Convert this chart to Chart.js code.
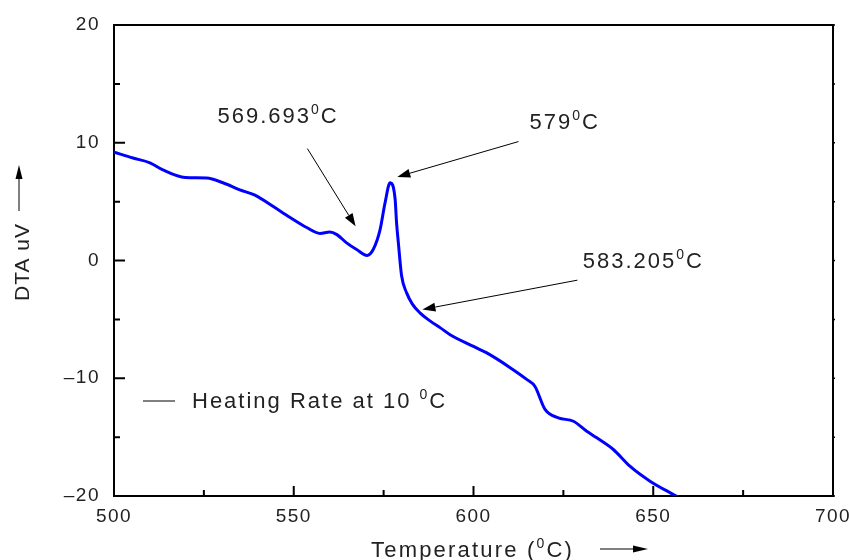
<!DOCTYPE html>
<html>
<head>
<meta charset="utf-8">
<script src="https://cdn.jsdelivr.net/npm/chart.js@4/dist/chart.umd.min.js"></script>
<style>
  body { margin: 0; background: #fff; }
  canvas { display: block; }
</style>
</head>
<body>
<canvas id="dta" width="850" height="560"></canvas>
<script>
// DTA curve (temperature in °C, signal in uV)
const temps = [500, 505.3, 510, 513.6, 519.8, 525.8, 530.3, 535, 539.2, 544.2, 549, 553.6, 557.3, 560, 562, 564.7, 567.5, 570.4, 572.1, 574, 575.4, 576.8, 578.2, 578.6, 579.1, 580, 581.4, 583, 585.1, 588, 590.7, 593.5, 600, 603.7, 610.2, 614.8, 617.1, 619.9, 623.6, 627.8, 631.5, 634.3, 638.9, 643.5, 649.1, 655.6, 657];
const dta = [9.2, 8.7, 8.3, 7.7, 7.05, 7.0, 6.6, 6.0, 5.55, 4.6, 3.65, 2.8, 2.3, 2.42, 2.2, 1.5, 0.93, 0.43, 0.93, 2.6, 4.9, 6.6, 5.2, 3.2, 1.5, -1.3, -2.75, -3.7, -4.45, -5.15, -5.7, -6.3, -7.3, -7.85, -9.1, -10.1, -10.7, -12.65, -13.36, -13.65, -14.5, -15.06, -16.05, -17.47, -18.74, -19.87, -20.1];

const xMajor = [500, 550, 600, 650, 700];
const xMinor = [525, 575, 625, 675];
const yMajor = [-20, -10, 0, 10, 20];
const yMinor = [-15, -5, 5, 15];

// annotation labels: [text, superscript, tail], anchor in data units
const labelText = [['569.693', '0', 'C'], ['579', '0', 'C'], ['583.205', '0', 'C']];
const labelAt = [[528.8, 11.7], [615.6, 11.13], [630.4, -0.6]];
// arrows: from -> to, in data units
const arrowFrom = [[553.8, 9.5], [612.5, 10.1], [628.9, -1.67]];
const arrowTo = [[567.2, 2.9], [578.8, 7.1], [585.8, -4.16]];

const legendLabel = ['Heating Rate at 10 ', '0', 'C'];
const xTitle = ['Temperature (', '0', 'C)'];
const yTitle = 'DTA uV';

const FONT = "'Liberation Sans', Arial, sans-serif";

function supText(ctx, x, y, parts, size, supSize, rise) {
    ctx.font = size + 'px ' + FONT;
    ctx.fillText(parts[0], x, y);
    x += ctx.measureText(parts[0]).width;
    ctx.font = supSize + 'px ' + FONT;
    ctx.fillText(parts[1], x, y - rise);
    x += ctx.measureText(parts[1]).width;
    ctx.font = size + 'px ' + FONT;
    ctx.fillText(parts[2], x, y);
    return x + ctx.measureText(parts[2]).width;
}

function arrow(ctx, x1, y1, x2, y2, head, half) {
    const a = Math.atan2(y2 - y1, x2 - x1);
    const bx = x2 - head * Math.cos(a), by = y2 - head * Math.sin(a);
    ctx.beginPath();
    ctx.moveTo(x1, y1);
    ctx.lineTo(bx, by);
    ctx.stroke();
    ctx.beginPath();
    ctx.moveTo(x2, y2);
    ctx.lineTo(bx + half * Math.sin(a), by - half * Math.cos(a));
    ctx.lineTo(bx - half * Math.sin(a), by + half * Math.cos(a));
    ctx.closePath();
    ctx.fill();
}

const decor = {
    id: 'decor',
    beforeDraw(chart) {
        chart.ctx.letterSpacing = '1.5px';
    },
    afterDraw(chart) {
        const ctx = chart.ctx;
        const ca = chart.chartArea;
        const xs = chart.scales.x, ys = chart.scales.y;
        ctx.save();
        ctx.strokeStyle = '#000';
        ctx.fillStyle = '#111';

        // frame top + right
        ctx.lineWidth = 2;
        ctx.beginPath();
        ctx.moveTo(ca.left, ca.top);
        ctx.lineTo(ca.right, ca.top);
        ctx.lineTo(ca.right, ca.bottom);
        ctx.stroke();

        // inward ticks
        ctx.beginPath();
        xMajor.forEach(v => { const p = xs.getPixelForValue(v); ctx.moveTo(p, ca.bottom); ctx.lineTo(p, ca.bottom - 10); });
        xMinor.forEach(v => { const p = xs.getPixelForValue(v); ctx.moveTo(p, ca.bottom); ctx.lineTo(p, ca.bottom - 6); });
        yMajor.forEach(v => { const p = ys.getPixelForValue(v); ctx.moveTo(ca.left, p); ctx.lineTo(ca.left + 11, p); });
        yMinor.forEach(v => { const p = ys.getPixelForValue(v); ctx.moveTo(ca.left, p); ctx.lineTo(ca.left + 6, p); });
        ctx.stroke();
        ctx.lineWidth = 1.5;
        ctx.beginPath();
        yMinor.concat(yMajor).forEach(v => { const p = ys.getPixelForValue(v); ctx.moveTo(ca.right, p); ctx.lineTo(ca.right + 2, p); });
        ctx.stroke();

        // annotations
        ctx.lineWidth = 1;
        ctx.fillStyle = '#000';
        arrowFrom.forEach((f, i) => {
            const t = arrowTo[i];
            arrow(ctx, xs.getPixelForValue(f[0]), ys.getPixelForValue(f[1]),
                xs.getPixelForValue(t[0]), ys.getPixelForValue(t[1]), 13, 4.5);
        });
        ctx.fillStyle = '#222';
        ctx.textBaseline = 'alphabetic';
        ctx.textAlign = 'left';
        ctx.letterSpacing = '2px';
        labelText.forEach((parts, i) => {
            supText(ctx, xs.getPixelForValue(labelAt[i][0]), ys.getPixelForValue(labelAt[i][1]), parts, 22, 14, 9);
        });

        // legend
        ctx.strokeStyle = '#555';
        ctx.lineWidth = 1.5;
        ctx.beginPath();
        ctx.moveTo(ca.left + 29, ca.top + 376);
        ctx.lineTo(ca.left + 61, ca.top + 376);
        ctx.stroke();
        ctx.letterSpacing = '2px';
        supText(ctx, ca.left + 78, ca.top + 383, legendLabel, 22, 14, 9);

        // axis titles
        ctx.letterSpacing = '2.2px';
        supText(ctx, 371, 557, xTitle, 22, 14, 9);
        ctx.strokeStyle = '#000';
        ctx.fillStyle = '#000';
        ctx.lineWidth = 1;
        arrow(ctx, 600, 549, 648, 549, 15, 3.5);

        ctx.save();
        ctx.translate(29, 301);
        ctx.rotate(-Math.PI / 2);
        ctx.fillStyle = '#222';
        ctx.font = '21px ' + FONT;
        ctx.letterSpacing = '1px';
        ctx.fillText(yTitle, 0, 0);
        ctx.restore();
        arrow(ctx, 19, 211, 19, 165, 14, 3.5);

        ctx.restore();
    }
};

const points = temps.map((t, i) => ({x: t, y: dta[i]}));

new Chart(document.getElementById('dta'), {
    type: 'line',
    data: {
        datasets: [{
            data: points,
            borderColor: 'rgb(0, 0, 255)',
            borderWidth: 3,
            pointRadius: 0,
            cubicInterpolationMode: 'monotone',
            fill: false
        }]
    },
    options: {
        responsive: false,
        animation: false,
        layout: { padding: { left: 0, right: 17, top: 25, bottom: 0 } },
        plugins: { legend: { display: false }, tooltip: { enabled: false } },
        scales: {
            x: {
                type: 'linear',
                min: 500, max: 700,
                afterFit: s => { s.height = 64; s.paddingLeft = 0; s.paddingRight = 0; },
                afterBuildTicks: s => { s.ticks = xMajor.map(v => ({value: v})); },
                grid: { display: false, drawTicks: false },
                border: { display: true, width: 2, color: '#000' },
                ticks: { padding: 9, color: '#222', font: { family: FONT, size: 19 }, maxRotation: 0 }
            },
            y: {
                min: -20, max: 20,
                afterFit: s => { s.width = 114; s.paddingTop = 0; s.paddingBottom = 0; },
                afterBuildTicks: s => { s.ticks = yMajor.map(v => ({value: v})); },
                grid: { display: false, drawTicks: false },
                border: { display: true, width: 2, color: '#000' },
                ticks: {
                    padding: 14, color: '#222', font: { family: FONT, size: 19 },
                    callback: v => v < 0 ? '\u2013' + Math.abs(v) : String(v)
                }
            }
        }
    },
    plugins: [decor]
});
</script>
</body>
</html>
